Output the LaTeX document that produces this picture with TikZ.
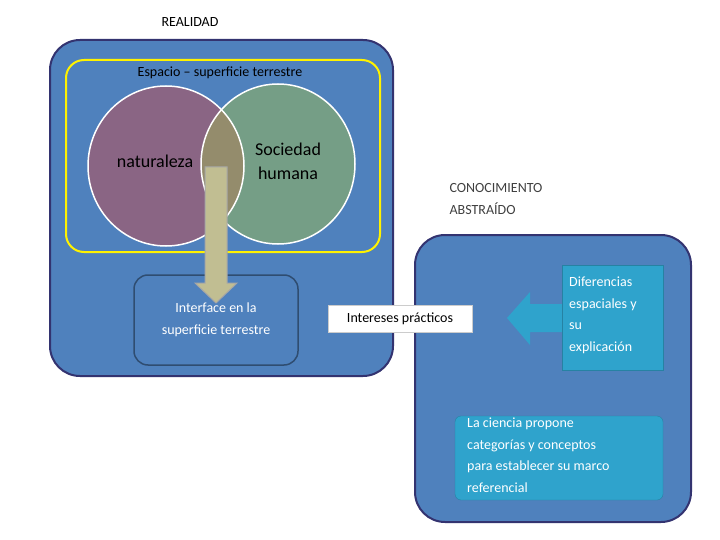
\documentclass[tikz,border=0pt]{standalone}
\usepackage{fontspec}
\setmainfont{Carlito}
\begin{document}
\begin{tikzpicture}[x=1pt,y=-1pt,
  bigbox/.style={draw=blue!30!black!80, line width=2pt, fill=boxblue, rounded corners=30pt},
  wt/.style={text=white, font=\fontsize{14}{21.5}\selectfont, align=left},
  cy/.style={fill=cyanbox, draw=cyanbox!80!black}]
\definecolor{boxblue}{HTML}{4F81BD}
\definecolor{cyanbox}{HTML}{2FA3CC}
\definecolor{graytxt}{HTML}{404040}
\definecolor{natc}{HTML}{8A6584}
\definecolor{socc}{HTML}{759E86}
\definecolor{intc}{HTML}{948C6C}
\useasboundingbox (0,0) rectangle (720,540);
\node[text=black, font=\fontsize{14}{16}\selectfont] (real) at (190,22) {REALIDAD};
\draw[bigbox] (50,40) rectangle (393,376);
\draw[draw=yellow, line width=2pt, fill=boxblue, rounded corners=18pt] (66,60) rectangle (380,252);
\fill[natc] (166,166) ellipse [x radius=78, y radius=80];
\fill[socc] (278,164) ellipse [x radius=77, y radius=80];
\begin{scope}
\clip (166,166) ellipse [x radius=78, y radius=80];
\fill[intc] (278,164) ellipse [x radius=77, y radius=80];
\end{scope}
\draw[white, line width=1.5pt] (166,166) ellipse [x radius=78, y radius=80];
\draw[white, line width=1.5pt] (278,164) ellipse [x radius=77, y radius=80];
\node[font=\fontsize{14}{16}\selectfont] (esp) at (220,73) {Espacio -- superficie terrestre};
\node[font=\fontsize{18}{22}\selectfont] (nat) at (155,161) {naturaleza};
\node[font=\fontsize{18}{24}\selectfont, align=center] (soc) at (288,161) {Sociedad\\humana};
\draw[draw=boxblue!60!black, line width=1.5pt, rounded corners=14pt] (134,275) rectangle (298,365);
\node[wt, align=center] (iface) at (216,320) {Interface en la\\superficie terrestre};
\draw[fill=yellow!30!gray!80, draw=gray!70, line width=1pt] (205,167) -- (227,167) -- (227,283) -- (237,283) -- (216,303) -- (195,283) -- (205,283) -- cycle;
\draw[bigbox] (415,235) rectangle (691,522);
\node[text=graytxt, font=\fontsize{14}{22}\selectfont, align=left, anchor=west] (con) at (446,199) {CONOCIMIENTO\\ABSTRAÍDO};
\node[fill=white, draw=gray!40, font=\fontsize{14}{16}\selectfont, minimum width=144pt, minimum height=27pt] (int) at (400,318.5) {Intereses prácticos};
\fill[cyanbox] (507,318) -- (530,292) -- (530,304) -- (564,304) -- (564,332) -- (530,332) -- (530,345) -- cycle;
\node[cy, minimum width=101pt, minimum height=105pt] (dif) at (612.5,317.5) {};
\node[wt, anchor=north west, inner sep=0pt] at (569,277) {Diferencias\\espaciales y\\su\\explicación};
\node[cy, rounded corners=6pt, minimum width=208pt, minimum height=84pt] (cien) at (559,458) {};
\node[wt, anchor=north west, inner sep=0pt] at (467,418) {La ciencia propone\\categorías y conceptos\\para establecer su marco\\referencial};
\end{tikzpicture}
\end{document}
